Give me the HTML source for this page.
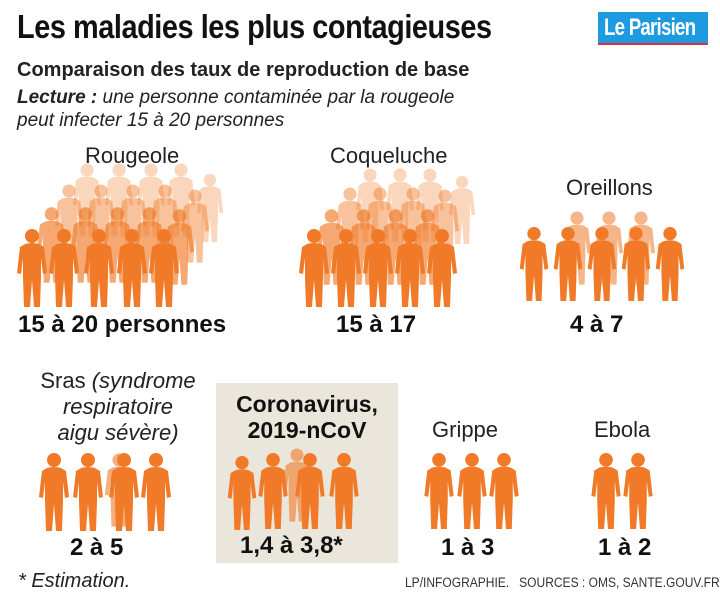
<!DOCTYPE html>
<html><head><meta charset="utf-8"><style>
body{margin:0;background:#fff;}
.w{position:relative;width:720px;height:599px;overflow:hidden;font-family:"Liberation Sans",sans-serif;}
.t{position:absolute;white-space:nowrap;}
</style></head><body><div class="w">
<svg width="720" height="599" style="position:absolute;left:0;top:0">
<defs>
<symbol id="p" viewBox="0 0 32 80">
<circle cx="16" cy="8" r="7"/>
<path d="M9 16 Q16 14 23 16 L28 19 L31 45 L27 46 L25 30 L25 49 L24 79 L18 79 L16 52 L14 79 L8 79 L7 49 L7 30 L5 46 L1 45 L4 19 Z"/>
</symbol>
</defs>
<rect x="216" y="383" width="182" height="180" fill="#ebe6dc"/>
<rect x="598" y="12" width="110" height="33" fill="#1e9be0"/>
<rect x="598" y="43" width="110" height="2" fill="#e0303a"/>
<g fill="#f07a28">
<g opacity="0.3"><use href="#p" x="72" y="160" width="30" height="80"/><use href="#p" x="104" y="160" width="30" height="80"/><use href="#p" x="136" y="160" width="30" height="80"/><use href="#p" x="166" y="160" width="30" height="80"/><use href="#p" x="196" y="168" width="28" height="80"/></g>
<g opacity="0.45"><use href="#p" x="54" y="180" width="30" height="82"/><use href="#p" x="86" y="180" width="30" height="82"/><use href="#p" x="118" y="180" width="30" height="82"/><use href="#p" x="150" y="180" width="30" height="82"/><use href="#p" x="180" y="185" width="30" height="82"/></g>
<g opacity="0.65"><use href="#p" x="36" y="203" width="31" height="84"/><use href="#p" x="70" y="203" width="31" height="84"/><use href="#p" x="102" y="203" width="31" height="84"/><use href="#p" x="134" y="203" width="31" height="84"/><use href="#p" x="164" y="205" width="31" height="84"/></g>
<use href="#p" x="16" y="228" width="32" height="80"/><use href="#p" x="48" y="228" width="32" height="80"/><use href="#p" x="83" y="228" width="32" height="80"/><use href="#p" x="116" y="228" width="32" height="80"/><use href="#p" x="148" y="228" width="32" height="80"/>
<g opacity="0.3"><use href="#p" x="355" y="165" width="30" height="80"/><use href="#p" x="385" y="165" width="30" height="80"/><use href="#p" x="415" y="165" width="30" height="80"/><use href="#p" x="448" y="170" width="28" height="80"/></g>
<g opacity="0.45"><use href="#p" x="335" y="183" width="30" height="82"/><use href="#p" x="365" y="183" width="30" height="82"/><use href="#p" x="398" y="183" width="30" height="82"/><use href="#p" x="430" y="185" width="30" height="82"/></g>
<g opacity="0.65"><use href="#p" x="316" y="205" width="31" height="84"/><use href="#p" x="348" y="205" width="31" height="84"/><use href="#p" x="380" y="205" width="31" height="84"/><use href="#p" x="412" y="205" width="31" height="84"/></g>
<use href="#p" x="298" y="228" width="32" height="80"/><use href="#p" x="330" y="228" width="32" height="80"/><use href="#p" x="362" y="228" width="32" height="80"/><use href="#p" x="394" y="228" width="32" height="80"/><use href="#p" x="426" y="228" width="32" height="80"/>
<g opacity="0.55"><use href="#p" x="562" y="208" width="30" height="80"/><use href="#p" x="594" y="208" width="30" height="80"/><use href="#p" x="626" y="208" width="30" height="80"/></g>
<use href="#p" x="518" y="226" width="32" height="76"/><use href="#p" x="552" y="226" width="32" height="76"/><use href="#p" x="586" y="226" width="32" height="76"/><use href="#p" x="620" y="226" width="32" height="76"/><use href="#p" x="654" y="226" width="32" height="76"/>
<g opacity="0.6"><use href="#p" x="104" y="450" width="30" height="80"/></g>
<use href="#p" x="38" y="452" width="32" height="80"/><use href="#p" x="72" y="452" width="32" height="80"/><use href="#p" x="108" y="452" width="32" height="80"/><use href="#p" x="140" y="452" width="32" height="80"/>
<g opacity="0.6"><use href="#p" x="282" y="443" width="30" height="84"/></g>
<use href="#p" x="226" y="455" width="32" height="76"/><use href="#p" x="257" y="452" width="32" height="78"/><use href="#p" x="294" y="452" width="32" height="78"/><use href="#p" x="328" y="452" width="32" height="78"/>
<use href="#p" x="423" y="452" width="32" height="78"/><use href="#p" x="456" y="452" width="32" height="78"/><use href="#p" x="488" y="452" width="32" height="78"/>
<use href="#p" x="590" y="452" width="32" height="78"/><use href="#p" x="622" y="452" width="32" height="78"/>
</g>
</svg>
<div class="t" style="left:604px;top:14px;color:#fff;font:bold 24px 'Liberation Sans',sans-serif;letter-spacing:-1px;transform:scaleX(0.78);transform-origin:0 0">Le Parisien</div>
<div class="t" style="left:17px;top:8px;font:bold 33px 'Liberation Sans',sans-serif;color:#111;letter-spacing:-0.5px;transform:scaleX(0.875);transform-origin:0 0">Les maladies les plus contagieuses</div>
<div class="t" style="left:17px;top:59px;font:bold 20px 'Liberation Sans',sans-serif;color:#222">Comparaison des taux de reproduction de base</div>
<div class="t" style="left:17px;top:86px;font:italic 19px 'Liberation Sans',sans-serif;color:#222;line-height:23px"><b>Lecture :</b> une personne contaminée par la rougeole<br>peut infecter 15 à 20 personnes</div>
<div class="t" style="left:85px;top:143px;font:22px 'Liberation Sans',sans-serif;color:#222">Rougeole</div>
<div class="t" style="left:330px;top:143px;font:22px 'Liberation Sans',sans-serif;color:#222">Coqueluche</div>
<div class="t" style="left:566px;top:175px;font:22px 'Liberation Sans',sans-serif;color:#222">Oreillons</div>
<div class="t" style="left:18px;top:311px;font:bold 24px 'Liberation Sans',sans-serif;color:#111">15 à 20 personnes</div>
<div class="t" style="left:336px;top:311px;font:bold 24px 'Liberation Sans',sans-serif;color:#111">15 à 17</div>
<div class="t" style="left:570px;top:311px;font:bold 24px 'Liberation Sans',sans-serif;color:#111">4 à 7</div>
<div class="t" style="left:18px;top:368px;width:200px;text-align:center;font:22px 'Liberation Sans',sans-serif;color:#222;line-height:26px">Sras <i>(syndrome<br>respiratoire<br>aigu sévère)</i></div>
<div class="t" style="left:216px;top:391px;width:182px;text-align:center;font:bold 23px 'Liberation Sans',sans-serif;color:#111;line-height:26px">Coronavirus,<br>2019-nCoV</div>
<div class="t" style="left:432px;top:417px;font:22px 'Liberation Sans',sans-serif;color:#222">Grippe</div>
<div class="t" style="left:594px;top:417px;font:22px 'Liberation Sans',sans-serif;color:#222">Ebola</div>
<div class="t" style="left:70px;top:534px;font:bold 24px 'Liberation Sans',sans-serif;color:#111">2 à 5</div>
<div class="t" style="left:240px;top:532px;font:bold 24px 'Liberation Sans',sans-serif;color:#111">1,4 à 3,8*</div>
<div class="t" style="left:441px;top:534px;font:bold 24px 'Liberation Sans',sans-serif;color:#111">1 à 3</div>
<div class="t" style="left:598px;top:534px;font:bold 24px 'Liberation Sans',sans-serif;color:#111">1 à 2</div>
<div class="t" style="left:18px;top:570px;font:italic 20px 'Liberation Sans',sans-serif;color:#222">* Estimation.</div>
<div class="t" style="left:405px;top:575px;font:13.5px 'Liberation Sans',sans-serif;color:#333;transform:scaleX(0.89);transform-origin:0 0">LP/INFOGRAPHIE.&nbsp;&nbsp; SOURCES : OMS, SANTE.GOUV.FR</div>
</div></body></html>
